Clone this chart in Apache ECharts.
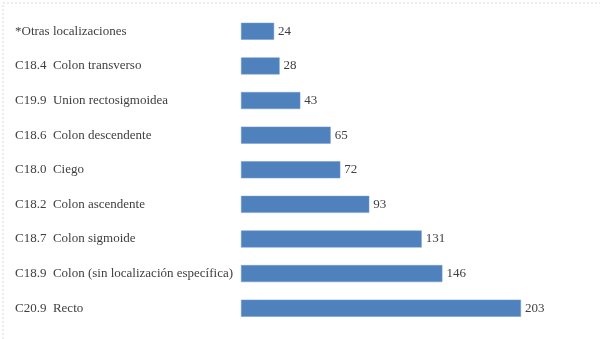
<!DOCTYPE html>
<html><head><meta charset="utf-8">
<script src="https://cdn.jsdelivr.net/npm/echarts@6/dist/echarts.min.js"></script>
<style>html,body{margin:0;padding:0;background:#fff}#c{width:600px;height:339px}</style>
</head><body><div id="c"></div>
<script>
const categories = [
  "C20.9  Recto",
  "C18.9  Colon (sin localización específica)",
  "C18.7  Colon sigmoide",
  "C18.2  Colon ascendente",
  "C18.0  Ciego",
  "C18.6  Colon descendente",
  "C19.9  Union rectosigmoidea",
  "C18.4  Colon transverso",
  "*Otras localizaciones"
];
const values = [203, 146, 131, 93, 72, 65, 43, 28, 24];

const chart = echarts.init(document.getElementById('c'));
chart.setOption({
  animation: false,
  graphic: [{
    type: 'rect', left: 0.5, top: 0.5,
    shape: {x: 0.5, y: 0.5, width: 598, height: 338},
    style: {fill: 'none', stroke: '#d9d9d9', lineWidth: 1, lineDash: [2, 2]},
    silent: true
  }],
  grid: {left: 241, right: 79, top: 14, bottom: 13.5, containLabel: false},
  xAxis: {type: 'value', min: 0, max: 203, show: false},
  yAxis: {
    type: 'category', data: categories,
    axisLine: {show: false}, axisTick: {show: false},
    axisLabel: {
      align: 'left', margin: 226,
      fontFamily: '"Liberation Serif", "Times New Roman", serif',
      fontSize: 13, color: '#404040'
    }
  },
  series: [{
    type: 'bar', data: values, barWidth: 17,
    itemStyle: {color: '#4f81bd', borderColor: '#6f9bd1', borderWidth: 0.5},
    label: {
      show: true, position: 'right', distance: 4,
      fontFamily: '"Liberation Serif", "Times New Roman", serif',
      fontSize: 13, color: '#404040'
    }
  }]
});
</script></body></html>
